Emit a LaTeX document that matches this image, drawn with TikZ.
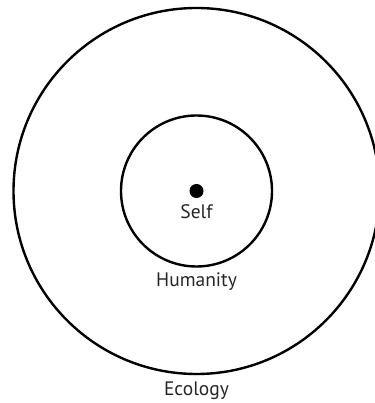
\documentclass[tikz,border=0pt]{standalone}
\usepackage{fontspec}
\setmainfont{PT Sans}
\begin{document}
\begin{tikzpicture}[x=1pt,y=1pt,
  ring/.style={circle,draw=black,line width=2.4pt,inner sep=0pt},
  lbl/.style={anchor=base,font=\fontsize{19.5}{22}\selectfont,text=black!85}]
\useasboundingbox (0,0) rectangle (374,403);
\coordinate (c) at (196.5,212);
\node[ring,minimum size=366pt] (outer) at (c) {};
\node[ring,minimum size=151pt] (inner) at (c) {};
\node[circle,fill=black,minimum size=14pt,inner sep=0pt] (dot) at (c) {};
\node[lbl] (self) at (196.5,184) {Self};
\node[lbl] (hum) at (196.5,116) {Humanity};
\node[lbl] (eco) at (196.5,7) {Ecology};
\end{tikzpicture}
\end{document}
